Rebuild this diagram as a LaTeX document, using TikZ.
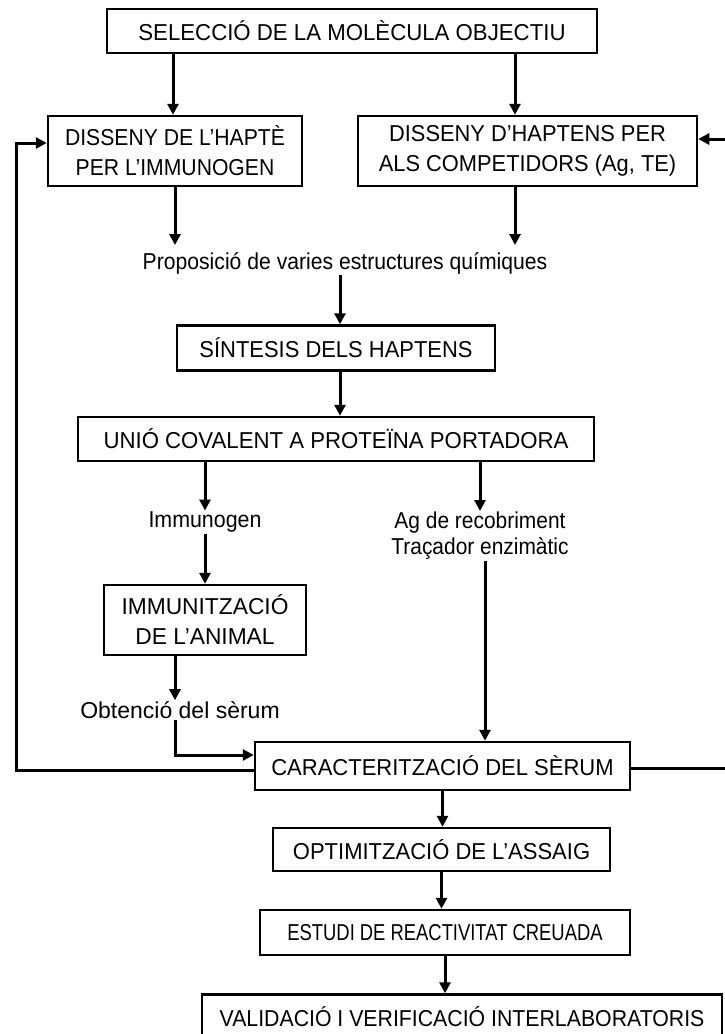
\documentclass[tikz,border=0pt]{standalone}
\usepackage{fontspec}
\setmainfont{Liberation Sans}
\usetikzlibrary{arrows.meta}
\begin{document}
\begin{tikzpicture}[x=1pt,y=-1pt,
  sx/.style={font=\fontsize{23}{30}\selectfont\addfontfeatures{FakeStretch=#1}},
  sxl/.style={font=\fontsize{23}{26}\selectfont\addfontfeatures{FakeStretch=#1}},
  box/.style={draw,line width=2.5pt,align=center,inner sep=0pt},
  lbl/.style={align=center,inner sep=1pt},
  arr/.style={line width=3pt,-{Triangle[length=11pt,width=11pt]}}]
\useasboundingbox (0,0) rectangle (725,1034);

% boxes and labels
\node[box,sx=0.966,minimum width=490pt,minimum height=44pt] (sel) at (352,31) {SELECCIÓ DE LA MOLÈCULA OBJECTIU};
\node[box,sx=0.92,minimum width=254pt,minimum height=70pt] (dh1) at (175,151) {DISSENY DE L’HAPTÈ\\PER L’IMMUNOGEN};
\node[box,sx=0.95,minimum width=339pt,minimum height=70pt] (dh2) at (527.5,151) {DISSENY D’HAPTENS PER\\ALS COMPETIDORS (Ag, TE)};
\node[lbl,sxl=0.92] (prop) at (345,263) {Proposició de varies estructures químiques};
\node[box,sx=0.954,minimum width=318pt,minimum height=45pt] (sint) at (336,348) {SÍNTESIS DELS HAPTENS};
\node[box,sx=0.965,minimum width=516pt,minimum height=44pt] (unio) at (336,439) {UNIÓ COVALENT A PROTEÏNA PORTADORA};
\node[lbl,sxl=0.93] (immu) at (205,522) {Immunogen};
\node[lbl,sxl=0.91] (ag) at (480,536) {Ag de recobriment\\Traçador enzimàtic};
\node[box,sx=0.99,minimum width=202pt,minimum height=70pt] (imz) at (205,620) {IMMUNITZACIÓ\\DE L’ANIMAL};
\node[lbl,sxl=1] (obt) at (180,710) {Obtenció del sèrum};
\node[box,sx=0.957,minimum width=375pt,minimum height=48pt] (car) at (442.5,766) {CARACTERITZACIÓ DEL SÈRUM};
\node[box,sx=0.957,minimum width=337pt,minimum height=43pt] (opt) at (441.5,849.5) {OPTIMITZACIÓ DE L’ASSAIG};
\node[box,sx=0.8,minimum width=370pt,minimum height=45pt] (est) at (445,932.5) {ESTUDI DE REACTIVITAT CREUADA};
\node[box,sx=0.925,minimum width=520pt,minimum height=45pt] (val) at (462,1017) {VALIDACIÓ I VERIFICACIÓ INTERLABORATORIS};

% helper coordinates for the return lines
\coordinate (lx) at (16,0);
\coordinate (rx) at (727,0);

% main flow
\draw[arr] (sel.south -| 173,0) -- (dh1.north -| 173,0);
\draw[arr] (sel.south -| 515,0) -- (dh2.north -| 515,0);
\draw[arr] (dh1.south) -- (175,245);
\draw[arr] (dh2.south -| 515,0) -- (515,245);
\draw[arr] (prop.south -| 340,0) -- (sint.north -| 340,0);
\draw[arr] (sint.south -| 340,0) -- (unio.north -| 340,0);
\draw[arr] (unio.south -| 205,0) -- (immu.north -| 205,0);
\draw[arr] (unio.south -| 480,0) -- (ag.north -| 480,0);
\draw[arr] (immu.south -| 205,0) -- (imz.north -| 205,0);
\draw[arr] (imz.south -| 175,0) -- (obt.north -| 175,0);
\draw[arr] (obt.south -| 175,0) -- (175,755) -- (car.west |- 0,755);
\draw[arr] (ag.south -| 485,0) -- (car.north -| 485,0);
\draw[arr] (car.south) -- (opt.north -| car.south);
\draw[arr] (opt.south) -- (est.north -| opt.south);
\draw[arr] (est.south) -- (est.south |- val.north);

% return lines to the design steps
\draw[arr] ([yshift=-4pt]car.west) -- ([yshift=-4pt]car.west -| lx) -- ([yshift=8pt]dh1.west -| lx) -- ([yshift=8pt]dh1.west);
\draw[arr] ([yshift=-2pt]car.east) -- ([yshift=-2pt]car.east -| rx) -- ([yshift=12pt]dh2.east -| rx) -- ([yshift=12pt]dh2.east);
\end{tikzpicture}
\end{document}
